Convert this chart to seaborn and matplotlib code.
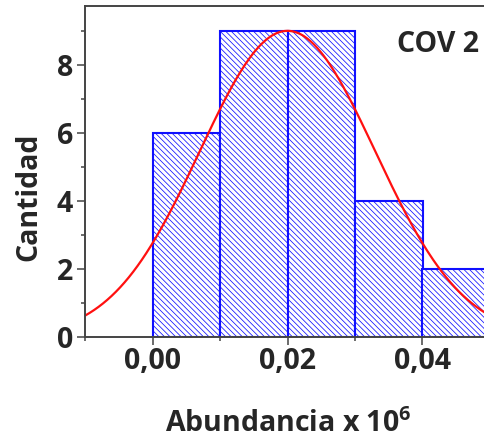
import numpy as np
import pandas as pd
import matplotlib
matplotlib.use("Agg")
import matplotlib.pyplot as plt
from matplotlib.ticker import MultipleLocator, FuncFormatter
import seaborn as sns

# Histogram bins (abundance x 10^6) and counts per bin
bin_edges = [0.00, 0.01, 0.02, 0.03, 0.04, 0.05]
bin_counts = [6, 9, 9, 4, 2]

# Fitted normal curve parameters
fit_mean = 0.02
fit_sd = 0.013
fit_peak = 9.0

panel_label = "COV 2"
x_label = r"Abundancia x 10$^{\mathbf{6}}$"
y_label = "Cantidad"

FONT = "Open Sans"
FS = 20.5

sns.set_style("ticks")
plt.rcParams["font.family"] = [FONT, "DejaVu Sans"]
plt.rcParams["font.weight"] = "bold"
plt.rcParams["mathtext.fontset"] = "custom"
plt.rcParams["mathtext.bf"] = f"{FONT}:bold"
plt.rcParams["mathtext.rm"] = f"{FONT}:bold"
plt.rcParams["hatch.linewidth"] = 0.55

fig = plt.figure(figsize=(4.84, 4.45), dpi=100)
W, H = 484, 445
left, right, top, bottom = 85, 490, 6, 337
ax = fig.add_axes([left / W, (H - bottom) / H, (right - left) / W, (bottom - top) / H])

centers = [(a + b) / 2 for a, b in zip(bin_edges[:-1], bin_edges[1:])]
df = pd.DataFrame({"abundancia": centers, "cantidad": bin_counts})

sns.histplot(data=df, x="abundancia", weights="cantidad", bins=bin_edges,
             ax=ax, stat="count", fill=True, facecolor="white",
             edgecolor="#1010ff", linewidth=1.5, hatch="\\\\\\\\\\\\", alpha=1.0)

xs = np.linspace(-0.012, 0.052, 400)
ys = fit_peak * np.exp(-((xs - fit_mean) ** 2) / (2 * fit_sd ** 2))
sns.lineplot(x=xs, y=ys, ax=ax, color="#ff1010", linewidth=1.6)

ax.set_xlim(-0.01, 0.05)
ax.set_ylim(0, 9.73)

ax.xaxis.set_major_locator(MultipleLocator(0.02))
ax.xaxis.set_minor_locator(MultipleLocator(0.01))
ax.yaxis.set_major_locator(MultipleLocator(2))
ax.yaxis.set_minor_locator(MultipleLocator(1))
ax.xaxis.set_major_formatter(FuncFormatter(lambda v, p: f"{v:.2f}".replace(".", ",").replace("-0,00", "0,00")))
ax.yaxis.set_major_formatter(FuncFormatter(lambda v, p: f"{v:.0f}"))

spine_color = "#444444"
for s in ["left", "bottom", "top", "right"]:
    ax.spines[s].set_visible(True)
    ax.spines[s].set_color(spine_color)
    ax.spines[s].set_linewidth(1.4)

ax.tick_params(axis="both", which="major", direction="out", length=5.5, width=1.1,
               color=spine_color, labelsize=FS, pad=3)
ax.tick_params(axis="x", which="major", pad=2)
ax.tick_params(axis="both", which="minor", direction="out", length=3, width=1.1,
               color=spine_color)
for lab in ax.get_xticklabels() + ax.get_yticklabels():
    lab.set_fontweight("bold")

ax.set_xlabel("")
ax.set_ylabel("")
fig.text(288 / W, 1 - 424 / H, x_label, ha="center", va="center",
         fontsize=FS, fontweight="bold")
fig.text(29 / W, 1 - 197 / H, y_label, ha="center", va="center",
         rotation=90, fontsize=FS, fontweight="bold")
fig.text(438 / W, 1 - 45 / H, panel_label, ha="center", va="center",
         fontsize=FS, fontweight="bold")

fig.savefig("out.png", dpi=100)
